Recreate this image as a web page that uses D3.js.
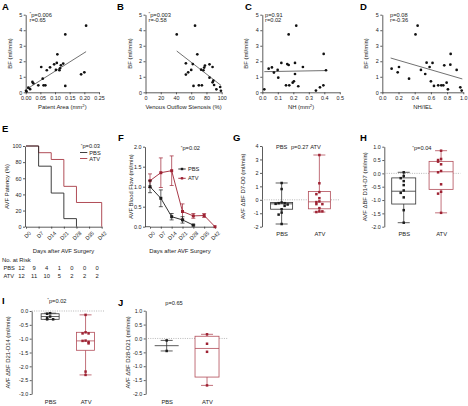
<!DOCTYPE html>
<html><head><meta charset="utf-8">
<script src="https://cdn.jsdelivr.net/npm/d3@7/dist/d3.min.js"></script>
<style>html,body{margin:0;padding:0;background:#fff}svg{display:block}</style>
</head><body>
<svg id="chart" width="468" height="406"></svg>
<script>
// ---------------- DATA ----------------
const bfTicks = [0, 1, 2, 3, 4, 5];

const aX = [0.001,0.003,0.009,0.015,0.023,0.026,0.043,0.053,0.058,0.061,0.067,0.072,0.083,0.097,0.106,0.103,0.108,0.115,0.117,0.12,0.128,0.135,0.135,0.189,0.2,0.206];
const aY = [0.1,0.05,0.3,0.2,0.67,0.58,0.45,1.63,0.88,0.45,0.45,1.42,1.61,1.8,1.89,1.44,2.45,1.42,1.55,1.74,1.85,3.73,0.41,1.16,1.29,4.29];
const aFitX = [0.003, 0.206], aFitY = [0.2, 2.62];
const aTicks = [0, 0.05, 0.10, 0.15, 0.20, 0.25];

const bX = [41,65,68,53,62,78,77,76,84,88,73,60,56,53,84,89,88,90,63,70,74,93,98,99];
const bY = [3.73,4.29,2.45,1.87,1.82,1.72,1.59,1.42,1.8,1.63,1.46,1.44,1.29,1.14,0.94,0.75,0.64,0.47,0.41,0.45,0.45,0.19,0.34,0.1];
const bFitX = [41, 99], bFitY = [2.66, 0.45];
const bTicks = [0, 20, 40, 60, 80, 100];

const cX = [0.013,0.041,0.062,0.075,0.099,0.103,0.123,0.153,0.161,0.17,0.17,0.174,0.196,0.204,0.211,0.211,0.219,0.232,0.262,0.346,0.372,0.394,0.396,0.411];
const cY = [0.19,1.52,1.6,1.27,1.44,0.94,1.89,0.45,1.82,1.76,3.73,0.45,0.62,0.71,1.89,1.18,4.29,0.39,1.63,0.11,0.32,0.45,2.47,1.42];
const cFitX = [0.013, 0.411], cFitY = [1.33, 1.4];
const cTicks = [0, 0.1, 0.2, 0.3, 0.4, 0.5];

const dX = [0.115,0.19,0.206,0.33,0.41,0.436,0.477,0.53,0.547,0.584,0.6,0.62,0.638,0.69,0.728,0.753,0.765,0.794,0.81,0.84,0.844,0.918,0.963,0.98];
const dY = [1.52,1.29,1.63,0.88,3.73,4.29,1.44,1.18,1.91,1.63,0.71,1.89,0.41,0.45,0.45,0.45,1.74,0.62,0.19,1.78,2.47,1.44,0.32,0.11];
const dFitX = [0.103, 0.988], dFitY = [2.21, 0.86];
const dTicks = [0, 0.2, 0.4, 0.6, 0.8, 1.0];

const days = [0, 7, 14, 21, 28, 35, 42];
const dayLabels = ["D0", "D7", "D14", "D21", "D28", "D35", "D42"];

const ePbsDays = [0, 7, 14, 21, 28];
const ePbs = [100, 75, 41.7, 10, 0];
const eAtvDays = [0, 7, 14, 21, 28, 42];
const eAtv = [100, 91.7, 83.3, 50, 30, 0];
const eTicks = [0, 20, 40, 60, 80, 100];
const riskPbs = [12, 9, 4, 1, 0, 0, 0];
const riskAtv = [12, 11, 10, 5, 2, 2, 2];

const fPbsDays = [0, 7, 14, 21, 28];
const fPbsMean = [1.0, 0.71, 0.25, 0.17, 0.04];
const fPbsErr = [0.15, 0.21, 0.08, 0.08, 0.02];
const fAtvDays = [0, 7, 14, 21, 28, 35, 42];
const fAtvMean = [1.15, 1.35, 1.4, 0.38, 0.27, 0.28, 0.0];
const fAtvErr = [0.17, 0.37, 0.37, 0.19, 0.06, 0.05, 0];
const fTicks = [0, 0.5, 1.0, 1.5, 2.0];

const groups = ["PBS", "ATV"];
// box stats: [min, q1, median, q3, max]
const gPbsPts = [1.25,0.8,-0.2,-0.25,-0.25,-0.3,-0.35,-0.45,-0.7,-0.95,-1.1,-1.8];
const gPbsBox = [-1.8, -0.7, -0.3, -0.2, 1.25];
const gAtvPts = [3.33,1.23,0.57,0.42,0.12,-0.12,-0.17,-0.32,-0.32,-0.62,-0.86,-0.91,-0.86];
const gAtvBox = [-0.91, -0.67, -0.15, 0.62, 3.33];
const gTicks = [-2, -1, 0, 1, 2, 3, 4];

const hPbsPts = [0.04,-0.1,-0.18,-0.29,-0.44,-0.64,-0.73,-0.9,-1.38,-1.85];
const hPbsBox = [-1.85, -1.15, -0.67, -0.17, 0.04];
const hAtvPts = [0.85,0.54,0.5,0.44,0.34,0.09,0.04,-0.41,-0.69,-0.76,-1.48];
const hAtvBox = [-1.48, -0.6, 0.06, 0.45, 0.85];
const hTicks = [-2, -1.5, -1, -0.5, 0, 0.5, 1];

const iPbsPts = [-0.08,-0.1,-0.2,-0.25,-0.3,-0.3];
const iPbsBox = [-0.3, -0.3, -0.2, -0.1, -0.08];
const iAtvPts = [-0.14,-0.77,-0.81,-0.81,-1.07,-1.08,-1.12,-1.17,-2.19,-2.31];
const iAtvBox = [-2.31, -1.42, -1.08, -0.77, -0.14];
const iTicks = [-3, -2.5, -2, -1.5, -1, -0.5, 0];

const jPbsPts = [-0.07, -0.45];
const jPbsBox = [-0.45, -0.26, -0.26, -0.26, -0.07];
const jAtvPts = [0.15, -0.19, -0.48, -1.69];
const jAtvBox = [-1.69, -1.39, -0.36, 0.08, 0.15];
const jTicks = [-2, -1.5, -1, -0.5, 0, 0.5, 1];

// ---------------- DRAWING ----------------
const FONT = '"Liberation Sans", Arial, Helvetica, sans-serif';
const INK = "#222", AX = "#333", PBSC = "#1c1c1c", ATVC = "#9e2233", ATVBOX = "#b24d59";
const TICKFS = 5.4;
const svg = d3.select("#chart").attr("font-family", FONT);

function styleAxis(g) {
  g.attr("font-size", null).attr("font-family", null);
  g.selectAll("path.domain").attr("stroke", AX).attr("stroke-width", 0.8);
  g.selectAll(".tick line").attr("stroke", AX).attr("stroke-width", 0.8);
  g.selectAll(".tick text").attr("fill", INK).style("font-size", TICKFS + "px");
  return g;
}
function text(x, y, s, o = {}) {
  const t = svg.append("text").attr("x", x).attr("y", y).text(s)
    .attr("fill", o.fill || INK).style("font-size", (o.fs || 6) + "px")
    .attr("text-anchor", o.anchor || "start");
  if (o.bold) t.attr("font-weight", "bold");
  return t;
}
function letter(x, y, s) { text(x, y, s, { fs: 9.5, bold: true, fill: "#000" }); }
function vlabel(x, y, s) {
  svg.append("text").attr("transform", `translate(${x},${y}) rotate(-90)`)
    .attr("text-anchor", "middle").attr("fill", INK).style("font-size", "5.9px").text(s);
}
function pText(x, y, star, s, anchor) {
  const t = svg.append("text").attr("x", x).attr("y", y).attr("fill", INK)
    .style("font-size", "5.7px").attr("text-anchor", anchor || "start");
  if (star) t.append("tspan").text("*").style("font-size", "4.3px").attr("dy", -1.5);
  t.append("tspan").text(s).attr("dy", star ? 1.5 : 0);
}

// ---------- Scatter panels A-D ----------
function scatter(o) {
  const x = d3.scaleLinear().domain(o.xd).range(o.xr);
  const y = d3.scaleLinear().domain([0, 5]).range([92.3, 14.7]);
  styleAxis(svg.append("g").attr("transform", `translate(0,${y(0)})`)
    .call(d3.axisBottom(x).tickValues(o.xt).tickFormat(o.xf).tickSize(2).tickSizeOuter(0).tickPadding(1.5)));
  styleAxis(svg.append("g").attr("transform", `translate(${o.xr[0]},0)`)
    .call(d3.axisLeft(y).tickValues(bfTicks).tickFormat(d3.format("d")).tickSize(2).tickSizeOuter(0).tickPadding(1.5)));
  svg.append("line").attr("x1", x(o.fx[0])).attr("y1", y(o.fy[0]))
    .attr("x2", x(o.fx[1])).attr("y2", y(o.fy[1])).attr("stroke", "#333").attr("stroke-width", 0.7);
  svg.append("g").selectAll("circle").data(o.xs).join("circle")
    .attr("cx", d => x(d)).attr("cy", (d, i) => y(o.ys[i])).attr("r", 1.35).attr("fill", "#111");
  pText(o.annX, 16.8, o.star, o.p);
  pText(o.annX, 22.3, false, o.r);
  letter(o.lx, 9.5, o.letter);
  vlabel(o.ylx, 53.5, "BF (ml/min)");
  const t = text((o.xr[0] + o.xr[1]) / 2, 109, o.title, { anchor: "middle", fs: 5.9 });
  if (o.sup) { t.append("tspan").text("2").style("font-size", "4.2px").attr("dy", -2); t.append("tspan").text(")").attr("dy", 2); }
}
scatter({ xd: [0, 0.25], xr: [25.7, 99], xt: aTicks, xf: d3.format(".2f"), xs: aX, ys: aY, fx: aFitX, fy: aFitY,
  annX: 29.5, star: true, p: "p=0.006", r: "r=0.65", letter: "A", lx: 2, ylx: 12, title: "Patent Area (mm", sup: true });
scatter({ xd: [0, 100], xr: [145.5, 221.7], xt: bTicks, xf: d3.format("d"), xs: bX, ys: bY, fx: bFitX, fy: bFitY,
  annX: 148.5, star: true, p: "p=0.003", r: "r=-0.58", letter: "B", lx: 117, ylx: 132, title: "Venous Outflow Stenosis (%)" });
scatter({ xd: [0, 0.5], xr: [262.3, 339.8], xt: cTicks, xf: d3.format(".1f"), xs: cX, ys: cY, fx: cFitX, fy: cFitY,
  annX: 265, star: false, p: "p=0.91", r: "r=0.02", letter: "C", lx: 245, ylx: 248, title: "NH (mm", sup: true });
scatter({ xd: [0, 1], xr: [382.3, 463.3], xt: dTicks, xf: d3.format(".1f"), xs: dX, ys: dY, fx: dFitX, fy: dFitY,
  annX: 390, star: false, p: "p=0.08", r: "r=-0.36", letter: "D", lx: 360, ylx: 368, title: "NH/IEL" });

// ---------- Panel E ----------
function dayAxis(x, yPos) {
  const g = styleAxis(svg.append("g").attr("transform", `translate(0,${yPos})`)
    .call(d3.axisBottom(x).tickValues(days).tickFormat((d, i) => dayLabels[i]).tickSize(2).tickSizeOuter(0)));
  g.selectAll(".tick text").attr("x", 0).attr("y", 0).attr("dy", "0.35em")
    .attr("text-anchor", "end").attr("transform", "translate(3.5,5.5) rotate(-45)");
}
{
  const x = d3.scaleLinear().domain([0, 42]).range([26, 101.7]);
  const y = d3.scaleLinear().domain([0, 100]).range([226.7, 146]);
  styleAxis(svg.append("g").attr("transform", "translate(25,0)")
    .call(d3.axisLeft(y).tickValues(eTicks).tickSize(2).tickSizeOuter(0).tickPadding(1.5)));
  dayAxis(x, y(0));
  const line = d3.line().curve(d3.curveStepAfter).x(d => x(d[0])).y(d => y(d[1]));
  svg.append("path").attr("d", line(eAtvDays.map((d, i) => [d, eAtv[i]])))
    .attr("fill", "none").attr("stroke", "#a83a45").attr("stroke-width", 0.9);
  svg.append("path").attr("d", line(ePbsDays.map((d, i) => [d, ePbs[i]])))
    .attr("fill", "none").attr("stroke", "#2a2a2a").attr("stroke-width", 0.9);
  letter(2, 132, "E");
  vlabel(8.5, 186.5, "AVF Patency (%)");
  pText(100, 148.3, true, "p=0.03", "end");
  svg.append("line").attr("x1", 80).attr("x2", 87.3).attr("y1", 152.5).attr("y2", 152.5).attr("stroke", "#2a2a2a").attr("stroke-width", 0.9);
  svg.append("line").attr("x1", 80).attr("x2", 87.3).attr("y1", 158.5).attr("y2", 158.5).attr("stroke", "#a83a45").attr("stroke-width", 0.9);
  text(89.3, 154.5, "PBS", { fs: 5.7 });
  text(89.3, 160.5, "ATV", { fs: 5.7 });
  text(63.5, 252.5, "Days after AVF Surgery", { anchor: "middle", fs: 5.9 });
  text(2, 261.5, "No. at Risk", { fs: 5.9 });
  text(3.5, 270, "PBS", { fs: 5.7 });
  text(3.5, 278, "ATV", { fs: 5.7 });
  svg.append("g").selectAll("text").data(riskPbs).join("text")
    .attr("x", (d, i) => x(days[i]) - 4.5).attr("y", 270).attr("text-anchor", "middle")
    .style("font-size", "5.8px").attr("fill", INK).text(d => d);
  svg.append("g").selectAll("text").data(riskAtv).join("text")
    .attr("x", (d, i) => x(days[i]) - 4.5).attr("y", 278).attr("text-anchor", "middle")
    .style("font-size", "5.8px").attr("fill", INK).text(d => d);
}

// ---------- Panel F ----------
{
  const x = d3.scaleLinear().domain([0, 42]).range([150, 215]);
  const y = d3.scaleLinear().domain([0, 2]).range([226.7, 146.7]);
  styleAxis(svg.append("g").attr("transform", "translate(145,0)")
    .call(d3.axisLeft(y).tickValues(fTicks).tickFormat(d3.format(".1f")).tickSize(2).tickSizeOuter(0).tickPadding(1.5)));
  svg.append("line").attr("x1", 145).attr("x2", 150).attr("y1", y(0)).attr("y2", y(0)).attr("stroke", AX).attr("stroke-width", 0.8);
  dayAxis(x, y(0));
  function series(ds, m, e, col) {
    const g = svg.append("g");
    g.append("path").attr("d", d3.line().x(d => x(d)).y((d, i) => y(m[i]))(ds))
      .attr("fill", "none").attr("stroke", col).attr("stroke-width", 0.9);
    ds.forEach((d, i) => {
      if (e[i] > 0) {
        g.append("line").attr("x1", x(d)).attr("x2", x(d)).attr("y1", y(m[i] - e[i])).attr("y2", y(m[i] + e[i])).attr("stroke", col).attr("stroke-width", 0.7);
        [m[i] - e[i], m[i] + e[i]].forEach(v => g.append("line").attr("x1", x(d) - 2).attr("x2", x(d) + 2)
          .attr("y1", y(v)).attr("y2", y(v)).attr("stroke", col).attr("stroke-width", 0.7));
      }
      g.append("rect").attr("x", x(d) - 1.5).attr("y", y(m[i]) - 1.5).attr("width", 3).attr("height", 3).attr("fill", col);
    });
  }
  series(fAtvDays, fAtvMean, fAtvErr, ATVC);
  series(fPbsDays, fPbsMean, fPbsErr, PBSC);
  letter(118, 141, "F");
  vlabel(133.3, 186.7, "AVF Blood Flow (ml/min)");
  pText(200, 150, true, "p=0.02", "end");
  svg.append("line").attr("x1", 178.3).attr("x2", 185.7).attr("y1", 169).attr("y2", 169).attr("stroke", PBSC).attr("stroke-width", 0.9);
  svg.append("rect").attr("x", 180.8).attr("y", 167.8).attr("width", 2.4).attr("height", 2.4).attr("fill", PBSC);
  svg.append("line").attr("x1", 178.3).attr("x2", 185.7).attr("y1", 178.3).attr("y2", 178.3).attr("stroke", ATVC).attr("stroke-width", 0.9);
  svg.append("rect").attr("x", 180.8).attr("y", 177.1).attr("width", 2.4).attr("height", 2.4).attr("fill", ATVC);
  text(188, 171, "PBS", { fs: 5.7 });
  text(188, 180.3, "ATV", { fs: 5.7 });
  text(180, 252.5, "Days after AVF Surgery", { anchor: "middle", fs: 5.9 });
}

// ---------- Box panels G-J ----------
function boxPanel(o) {
  const x = d3.scalePoint().domain(groups).range(o.xr).padding(0.52);
  const y = d3.scaleLinear().domain(o.yd).range(o.yr);
  styleAxis(svg.append("g").attr("transform", `translate(${o.xr[0]},0)`)
    .call(d3.axisLeft(y).tickValues(o.yt).tickFormat(o.yf).tickSize(2).tickSizeOuter(0).tickPadding(1.5)));
  const gx = styleAxis(svg.append("g").attr("transform", `translate(0,${o.yr[0]})`)
    .call(d3.axisBottom(x).tickSize(0).tickSizeOuter(0).tickPadding(5.5)));
  gx.select("path.domain").remove();
  gx.selectAll(".tick text").style("font-size", "5.8px");
  svg.append("line").attr("x1", o.xr[0]).attr("x2", o.xr[1]).attr("y1", y(0)).attr("y2", y(0))
    .attr("stroke", "#9a9a9a").attr("stroke-width", 0.7).attr("stroke-dasharray", "1,1.3");
  [[o.pbsPts, o.pbsBox, PBSC, "#333"], [o.atvPts, o.atvBox, ATVC, ATVBOX]].forEach(([pts, b, pc, bc], gi) => {
    const cx = x(groups[gi]), bw = o.bw, cw = 12;
    const g = svg.append("g");
    g.append("line").attr("x1", cx).attr("x2", cx).attr("y1", y(b[0])).attr("y2", y(b[4])).attr("stroke", bc).attr("stroke-width", 0.8);
    [b[0], b[4]].forEach(v => g.append("line").attr("x1", cx - cw / 2).attr("x2", cx + cw / 2).attr("y1", y(v)).attr("y2", y(v)).attr("stroke", bc).attr("stroke-width", 0.8));
    if (b[3] > b[1]) g.append("rect").attr("x", cx - bw / 2).attr("y", y(b[3])).attr("width", bw).attr("height", y(b[1]) - y(b[3]))
      .attr("fill", "#fff").attr("stroke", bc).attr("stroke-width", 0.8);
    g.append("line").attr("x1", cx - bw / 2).attr("x2", cx + bw / 2).attr("y1", y(b[2])).attr("y2", y(b[2])).attr("stroke", bc).attr("stroke-width", 0.8);
    const placed = [];
    pts.forEach(v => {
      const py = y(v);
      const k = placed.filter(p => Math.abs(p - py) < 2.6).length;
      placed.push(py);
      const off = k === 0 ? 0 : (k % 2 ? -1 : 1) * Math.ceil(k / 2) * 3;
      g.append("rect").attr("x", cx + off - 1.25).attr("y", py - 1.25).attr("width", 2.5).attr("height", 2.5).attr("fill", pc);
    });
  });
  letter(o.lx, o.ly, o.letter);
  vlabel(o.ylx, (o.yr[0] + o.yr[1]) / 2, o.ylab);
}
const f1 = d => d.toFixed(1), f0 = d => String(d);
boxPanel({ xr: [262, 339], yd: [-2, 4], yr: [226.7, 146], yt: gTicks, yf: f0, bw: 22,
  pbsPts: gPbsPts, pbsBox: gPbsBox, atvPts: gAtvPts, atvBox: gAtvBox, letter: "G", lx: 233, ly: 141, ylx: 245, ylab: "AVF \u0394BF D7-D0 (ml/min)" });
text(281.7, 149.3, "PBS", { anchor: "middle", fs: 5.7 });
text(299.7, 149.3, "p=0.27", { anchor: "middle", fs: 5.7 });
text(315.5, 149.3, "ATV", { anchor: "middle", fs: 5.7 });
boxPanel({ xr: [384.3, 460.5], yd: [-2, 1], yr: [226.7, 146.7], yt: hTicks, yf: f1, bw: 24,
  pbsPts: hPbsPts, pbsBox: hPbsBox, atvPts: hAtvPts, atvBox: hAtvBox, letter: "H", lx: 360, ly: 141, ylx: 366.7, ylab: "AVF \u0394BF D14-D7 (ml/min)" });
pText(431.5, 150.3, true, "p=0.04", "end");
boxPanel({ xr: [31.7, 104], yd: [-3, 0], yr: [394, 311], yt: iTicks, yf: f1, bw: 18,
  pbsPts: iPbsPts, pbsBox: iPbsBox, atvPts: iAtvPts, atvBox: iAtvBox, letter: "I", lx: 2, ly: 304, ylx: 10, ylab: "AVF \u0394BF D21-D14 (ml/min)" });
pText(66.5, 302.7, true, "p=0.02", "end");
boxPanel({ xr: [145.7, 228], yd: [-2, 1], yr: [394, 310.7], yt: jTicks, yf: f1, bw: 24,
  pbsPts: jPbsPts, pbsBox: jPbsBox, atvPts: jAtvPts, atvBox: jAtvBox, letter: "J", lx: 118, ly: 306, ylx: 130, ylab: "AVF \u0394BF D28-D21 (ml/min)" });
text(174, 304.7, "p=0.65", { anchor: "middle", fs: 5.7 });
</script>
</body></html>
